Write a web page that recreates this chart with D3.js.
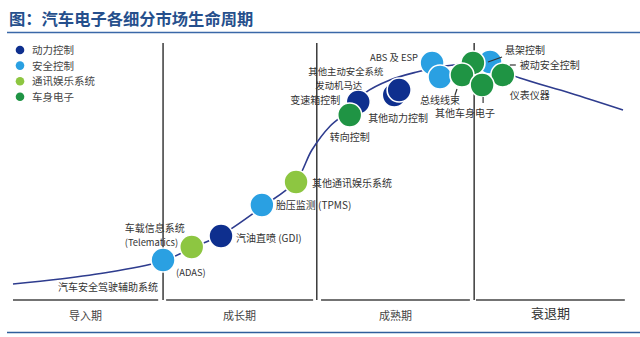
<!DOCTYPE html>
<html>
<head>
<meta charset="utf-8">
<script src="https://cdn.jsdelivr.net/npm/d3@7"></script>
<style>
  html, body { margin: 0; padding: 0; background: #fff; }
  svg { display: block; font-family: "Noto Sans CJK SC", "Noto Sans", sans-serif; }
</style>
</head>
<body>
<svg id="chart" width="640" height="337"></svg>
<script>
// ---- data ----
const title = "图：汽车电子各细分市场生命周期";

const categories = ["动力控制", "安全控制", "通讯娱乐系统", "车身电子"];
const categoryColors = ["#0e2f8e", "#2aa0e2", "#8dc641", "#1f9444"];

const phases = ["导入期", "成长期", "成熟期", "衰退期"];
const phaseStart = [0, 25.1, 50.5, 75.9];
const phaseEnd = [23.8, 49.2, 74.9, 100.3];
const phaseBoundaries = [24.6, 49.8, 75.6];

// lifecycle curve: time (0-100) vs. market penetration (0-100)
const curveTime = [0, 7.7, 15.9, 24.6, 29.3, 34.1, 40.8, 46.4, 49, 52, 55.2, 57.7, 61.8, 66.2, 70.8, 74.9, 79, 83.1, 91.3, 100];
const curveLevel = [6.4, 8.4, 11.2, 15.6, 20.8, 26, 37.2, 47.6, 60, 69.6, 76, 82.8, 88, 91.2, 93.6, 94.4, 92.8, 88.8, 82.8, 76];

// market segments, in drawing order
const segNames = ["汽车安全驾驶辅助系统", "车载信息系统", "汽油直喷", "胎压监测", "其他通讯娱乐系统",
  "变速箱控制", "转向控制", "发动机马达", "其他动力控制",
  "ABS及ESP", "悬架控制", "车身控制", "其他主动安全系统", "总线线束", "仪表仪器", "其他车身电子"];
const segCategory = [1, 2, 0, 1, 2, 0, 3, 0, 0, 1, 1, 3, 1, 3, 3, 3];
const segTime = [24.6, 29.3, 34.1, 40.8, 46.4, 56.6, 55.2, 62.5, 63.3, 68.7, 78.2, 75.4, 70.0, 73.6, 80.3, 76.9];
const segLevel = [16, 21.2, 25.6, 38, 47.2, 79.2, 74, 82, 84, 94.8, 95.2, 94.8, 89.2, 90, 90, 86];

// label text, attached segment, offset from the marker, anchor, optional leader line
const labelLayout = [
  { text: "汽车安全驾驶辅助系统", seg: 0, dx: -5, dy: 31, anchor: "end" },
  { text: "(ADAS)", seg: 0, dx: 13, dy: 16, anchor: "start", small: true },
  { text: "车载信息系统", seg: 1, dx: -67, dy: -15, anchor: "start" },
  { text: "(Telematics)", seg: 1, dx: -67, dy: -1, anchor: "start", small: true },
  { text: "汽油直喷 (GDI)", seg: 2, dx: 15, dy: 6, anchor: "start" },
  { text: "胎压监测 (TPMS)", seg: 3, dx: 14, dy: 4, anchor: "start" },
  { text: "其他通讯娱乐系统", seg: 4, dx: 16, dy: 5, anchor: "start" },
  { text: "转向控制", seg: 6, dx: -20, dy: 26, anchor: "start" },
  { text: "变速箱控制", seg: 5, dx: -18, dy: 2, anchor: "end" },
  { text: "发动机马达", seg: 5, dx: -43, dy: -13, anchor: "start", small: true },
  { text: "其他主动安全系统", seg: 5, dx: -50, dy: -27, anchor: "start", small: true },
  { text: "ABS 及 ESP", seg: 9, dx: -62, dy: -2, anchor: "start", small: true },
  { text: "其他动力控制", seg: 8, dx: -31, dy: 32, anchor: "start" },
  { text: "总线线束", seg: 12, dx: -20, dy: 27, anchor: "start", leader: [17, 12, 15, 18] },
  { text: "其他车身电子", seg: 15, dx: -47, dy: 32, anchor: "start", leader: [1, 12, 1, 18] },
  { text: "悬架控制", seg: 10, dx: 15, dy: -8, anchor: "start", leader: [-2, 0, 12, -5] },
  { text: "被动安全控制", seg: 14, dx: 17, dy: -6, anchor: "start", leader: [7, -10, 13, -10] },
  { text: "仪表仪器", seg: 14, dx: 7, dy: 24, anchor: "start" }
];

// ---- drawing ----
const svg = d3.select("#chart");
const x = d3.scaleLinear().domain([0, 100]).range([13, 623]);
const y = d3.scaleLinear().domain([0, 100]).range([300, 50]);

// title and frame rules
svg.append("text").attr("x", 9).attr("y", 25)
  .attr("font-size", 16.3).attr("font-weight", "bold").attr("fill", "#254f8c")
  .text(title);
svg.append("line").attr("x1", 7).attr("x2", 640).attr("y1", 32.5).attr("y2", 32.5)
  .attr("stroke", "#3a68a8").attr("stroke-width", 1.5);
svg.append("line").attr("x1", 7).attr("x2", 640).attr("y1", 332.5).attr("y2", 332.5)
  .attr("stroke", "#2f5f9c").attr("stroke-width", 1.5);

// phase dividers
svg.append("g").selectAll("line").data(phaseBoundaries).join("line")
  .attr("x1", d => x(d)).attr("x2", d => x(d))
  .attr("y1", 43).attr("y2", y(0))
  .attr("stroke", "#3a3a3a").attr("stroke-width", 1.5);

// phase baselines and names
svg.append("g").selectAll("line").data(phases).join("line")
  .attr("x1", (d, i) => x(phaseStart[i])).attr("x2", (d, i) => x(phaseEnd[i]))
  .attr("y1", y(0)).attr("y2", y(0))
  .attr("stroke", "#444").attr("stroke-width", 1.5);
svg.append("g").selectAll("text").data(phases).join("text")
  .attr("x", (d, i) => x((phaseStart[i] + phaseEnd[i]) / 2))
  .attr("y", (d, i) => i === 3 ? 318 : 320)
  .attr("text-anchor", "middle")
  .attr("font-size", (d, i) => i === 3 ? 13 : 11)
  .attr("fill", (d, i) => i === 3 ? "#333" : "#444")
  .text(d => d);

// legend
const legend = svg.append("g").selectAll("g").data(categories).join("g")
  .attr("transform", (d, i) => `translate(20, ${50 + i * 15.6})`);
legend.append("circle").attr("r", 4.3).attr("fill", (d, i) => categoryColors[i]);
legend.append("text").attr("x", 12).attr("y", 4)
  .attr("font-size", 10.5).attr("fill", "#444").text(d => d);

// lifecycle curve
const curvePts = curveTime.map((t, i) => [t, curveLevel[i]]);
svg.append("path")
  .attr("d", d3.line().x(d => x(d[0])).y(d => y(d[1])).curve(d3.curveCatmullRom)(curvePts))
  .attr("fill", "none").attr("stroke", "#2e3c8e").attr("stroke-width", 1.6);

// segment markers
const segs = segNames.map((n, i) => ({ name: n, cat: segCategory[i], t: segTime[i], v: segLevel[i] }));
svg.append("g").selectAll("circle").data(segs).join("circle")
  .attr("cx", d => x(d.t)).attr("cy", d => y(d.v)).attr("r", 12)
  .attr("fill", d => categoryColors[d.cat])
  .attr("stroke", "#fff").attr("stroke-width", 1.6);

// leader lines and labels
const lbl = svg.append("g");
labelLayout.filter(l => l.leader).forEach(l => {
  const s = segs[l.seg];
  lbl.append("line")
    .attr("x1", x(s.t) + l.leader[0]).attr("y1", y(s.v) + l.leader[1])
    .attr("x2", x(s.t) + l.leader[2]).attr("y2", y(s.v) + l.leader[3])
    .attr("stroke", "#333").attr("stroke-width", 1.2);
});
lbl.selectAll("text").data(labelLayout).join("text")
  .attr("x", d => x(segs[d.seg].t) + d.dx)
  .attr("y", d => y(segs[d.seg].v) + d.dy)
  .attr("text-anchor", d => d.anchor)
  .attr("font-size", d => d.small ? 9.4 : 10)
  .attr("fill", "#333")
  .text(d => d.text);
</script>
</body>
</html>
